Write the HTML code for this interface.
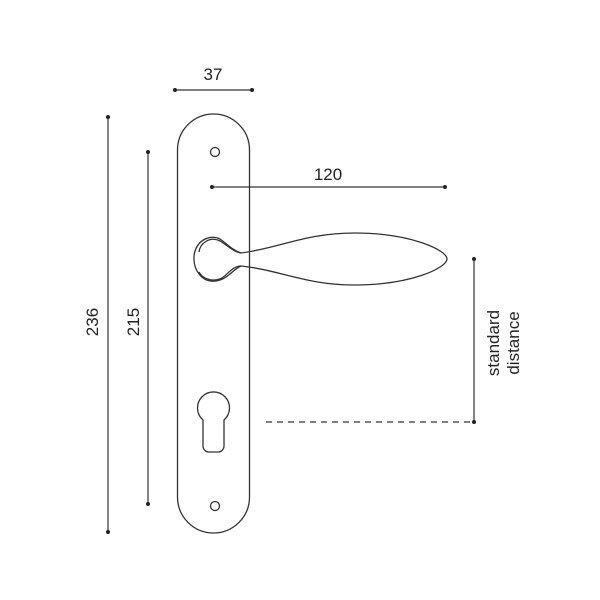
<!DOCTYPE html>
<html><head><style>
html,body{margin:0;padding:0;background:#fff;}
svg{display:block;}
text{font-family:"Liberation Sans",Arial,sans-serif;fill:#222;}
</style></head><body>
<svg width="600" height="600" viewBox="0 0 600 600" xmlns="http://www.w3.org/2000/svg">
<g stroke="#333" stroke-width="1.3" fill="none">
<rect x="177.5" y="114" width="72" height="419" rx="36" ry="36"/>
<circle cx="215" cy="152" r="4.5"/>
<circle cx="215" cy="506" r="4.5"/>
<path d="M203 420 A16 16 0 1 1 224 420 L224 446 A6 6 0 0 1 218 452 L209 452 A6 6 0 0 1 203 446 Z"/>
<path d="M241 253 C232 250 226 243 220 239 C210 234 196 240 194 256 C193 270 202 283 216 281 C228 279 232 270 241 266"/>
<path d="M241 253 C233 252 226 244 220 241 C210 236 200 243 199 252"/>
<path d="M241 266 C233 266 228 274 222 278 C212 283 202 278 199 272"/>
<path d="M241 253 C280 248 305 233 355 233 C410 233 447 250 447 259 C447 268 410 285 355 285 C305 285 280 270 241 266"/>
</g>
<g stroke="#333" stroke-width="1.2" fill="#222">
<line x1="175" y1="90" x2="252" y2="90"/>
<circle cx="175" cy="90" r="2" stroke="none"/><circle cx="252" cy="90" r="2" stroke="none"/>
<line x1="212" y1="187" x2="445" y2="187"/>
<circle cx="212" cy="187" r="2" stroke="none"/><circle cx="445" cy="187" r="2" stroke="none"/>
<line x1="108" y1="117" x2="108" y2="532"/>
<circle cx="108" cy="117" r="2" stroke="none"/><circle cx="108" cy="532" r="2" stroke="none"/>
<line x1="148" y1="152" x2="148" y2="504"/>
<circle cx="148" cy="152" r="2" stroke="none"/><circle cx="148" cy="504" r="2" stroke="none"/>
<line x1="474" y1="259" x2="474" y2="422"/>
<circle cx="474" cy="259" r="2" stroke="none"/><circle cx="474" cy="422" r="2" stroke="none"/>
<line x1="266" y1="422" x2="474" y2="422" stroke-dasharray="6,5"/>
</g>
<text x="213" y="80" font-size="17" text-anchor="middle">37</text>
<text x="328" y="180" font-size="17" text-anchor="middle">120</text>
<text transform="translate(98,322) rotate(-90)" font-size="17" text-anchor="middle">236</text>
<text transform="translate(139,322) rotate(-90)" font-size="17" text-anchor="middle">215</text>
<text transform="translate(499,343) rotate(-90)" font-size="17" text-anchor="middle">standard</text>
<text transform="translate(519,343) rotate(-90)" font-size="17" text-anchor="middle">distance</text>
</svg>
</body></html>
